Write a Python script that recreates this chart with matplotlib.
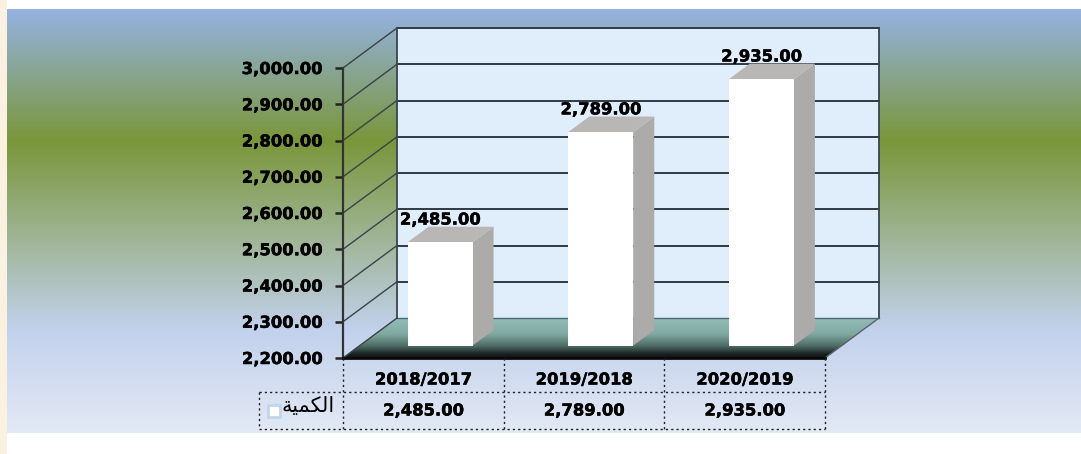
import numpy as np
import matplotlib
matplotlib.use("Agg")
import matplotlib.pyplot as plt
import matplotlib.patheffects as pe
from matplotlib.colors import LinearSegmentedColormap
from matplotlib.patches import Polygon

categories = ["2018/2017", "2019/2018", "2020/2019"]
values = [2485.0, 2789.0, 2935.0]
yticks = [2200, 2300, 2400, 2500, 2600, 2700, 2800, 2900, 3000]
series_name = "\ufe94\ufef4\ufee4\ufedc\ufedf\ufe8d"  # الكمية, shaped, in visual order

W, H = 1081, 454
fig = plt.figure(figsize=(W / 100, H / 100), dpi=100, facecolor="white")
FS = 11.8
heavy = [pe.withStroke(linewidth=0.35, foreground="black")]


def px_axes(x0, y0, x1, y1, **kw):
    return fig.add_axes([x0 / W, 1 - y1 / H, (x1 - x0) / W, (y1 - y0) / H], **kw)


# page strip and gradient background
strip = px_axes(0, 0, 7, H)
strip.set_axis_off()
strip.add_patch(plt.Rectangle((0, 0), 1, 1, transform=strip.transAxes, color="#FAF1E1"))

bg = px_axes(7, 9, W, 433)
bg.set_axis_off()
bg_cmap = LinearSegmentedColormap.from_list(
    "bg",
    [(0.0, "#95B2E2"), (0.31, "#7A963A"), (0.757, "#C2D1EC"), (1.0, "#E3E9F5")],
    N=1024,
)
bg.imshow(np.linspace(0, 1, 424)[:, None], aspect="auto", cmap=bg_cmap, vmin=0, vmax=1,
          interpolation="nearest")

# main axes: front plane of the 3D box
FX0, FX1, FY0, FY1 = 343, 825, 68, 358
ax = px_axes(FX0, FY0, FX1, FY1)
ax.set_xlim(0, len(categories))
ax.set_ylim(yticks[0], yticks[-1])
ax.patch.set_alpha(0)
for s in ax.spines.values():
    s.set_visible(False)
ax.set_yticks(yticks)
ax.set_yticklabels([f"{v:,.2f}" for v in yticks], fontsize=FS, fontweight="bold", color="black",
                   path_effects=heavy)
ax.tick_params(axis="y", length=6, width=1.8, color="#222222", pad=9)
ax.set_xticks([])

xpx = (FX1 - FX0) / len(categories)
ypx = (FY1 - FY0) / (yticks[-1] - yticks[0])
DX = 54 / xpx   # box depth in category units
DY = 40 / ypx   # box depth in value units
y_min, y_max = yticks[0], yticks[-1]
n = len(categories)


def dep(x, y, d):
    return x + d * DX, y + d * DY


# back wall
wall = Polygon([dep(0, y_min, 1), dep(n, y_min, 1), dep(n, y_max, 1), dep(0, y_max, 1)],
               closed=True, facecolor="#E0EDFB", edgecolor="none", clip_on=False, zorder=1)
ax.add_patch(wall)

# floor
floor_cmap = LinearSegmentedColormap.from_list(
    "floor", [(0.0, "#93BDB7"), (0.40, "#7FA9A0"), (0.70, "#4F6B66"), (0.88, "#1F2A28"), (1.0, "#0D0F0E")],
    N=512,
)
fl = ax.imshow(np.linspace(0, 1, 100)[:, None], aspect="auto", cmap=floor_cmap,
               extent=(0, n + DX, y_min, y_min + DY), origin="upper", zorder=2)
ax.set_xlim(0, n)
ax.set_ylim(y_min, y_max)
floor_poly = Polygon([dep(0, y_min, 0), dep(n, y_min, 0), dep(n, y_min, 1), dep(0, y_min, 1)],
                     closed=True, transform=ax.transData, facecolor="none", edgecolor="none",
                     clip_on=False)
ax.add_patch(floor_poly)
fl.set_clip_box(fig.bbox)
fl.set_clip_path(floor_poly)

# gridlines: back wall and left side wall
line_c = "#2F3A44"
for v in yticks:
    xb, yb = dep(0, v, 1)
    xe, ye = dep(n, v, 1)
    if v != y_min:
        ax.plot([xb, xe], [yb, ye], color=line_c, lw=1.4, clip_on=False, zorder=3)
    else:
        ax.plot([xb, xe], [yb, ye], color="#4A6A70", lw=1.0, clip_on=False, zorder=3)
    ax.plot([0, xb], [v, yb], color="#3A4348", lw=1.0, clip_on=False, zorder=3)
ax.plot(*zip(dep(0, y_min, 1), dep(0, y_max, 1)), color="#39444F", lw=1.3, clip_on=False, zorder=3)
ax.plot(*zip(dep(n, y_min, 1), dep(n, y_max, 1)), color="#39444F", lw=1.3, clip_on=False, zorder=3)
ax.plot(*zip(dep(n, y_min, 0), dep(n, y_min, 1)), color="#55666A", lw=1.0, clip_on=False, zorder=3)
ax.plot([0, 0], [y_min, y_max], color="#333333", lw=1.6, clip_on=False, zorder=3)
ax.plot([0, n], [y_min, y_min], color="#0A0A0A", lw=2.0, clip_on=False, zorder=4)

# bars
BAR_W = 65 / xpx
D0, D1 = 0.31, 0.31 + 21 / 54
for i, (cat, v) in enumerate(zip(categories, values)):
    cx = i + 0.5
    xl, xr = cx - BAR_W / 2, cx + BAR_W / 2
    side = [dep(xr, y_min, D0), dep(xr, y_min, D1), dep(xr, v, D1), dep(xr, v, D0)]
    top = [dep(xl, v, D0), dep(xr, v, D0), dep(xr, v, D1), dep(xl, v, D1)]
    front = [dep(xl, y_min, D0), dep(xr, y_min, D0), dep(xr, v, D0), dep(xl, v, D0)]
    ax.add_patch(Polygon(side, closed=True, fc="#ADABA9", ec="none", clip_on=False, zorder=5))
    ax.add_patch(Polygon(top, closed=True, fc="#B9B7B5", ec="none", clip_on=False, zorder=5))
    ax.add_patch(Polygon(front, closed=True, fc="#FFFFFF", ec="none", clip_on=False, zorder=6))
    lx, ly = dep(cx, v, D0)
    ax.annotate(f"{v:,.2f}", (lx, ly), xytext=(0, 16), textcoords="offset points",
                ha="center", va="center", fontsize=FS, fontweight="bold",
                color="black", annotation_clip=False, zorder=8, path_effects=heavy)

# data table under the plot, in category units
tax = px_axes(FX0, FY1, FX1, 430)
tax.set_xlim(0, n)
tax.set_ylim(430, FY1)
tax.set_axis_off()
tax.patch.set_alpha(0)
ROW, BOT = 392, 429
left = -(FX0 - 259) / xpx
dot = dict(color="#222222", lw=1.0, linestyle=(0, (1.6, 2.2)), clip_on=False)
for k in range(n + 1):
    tax.plot([k, k], [FY1, BOT], **dot)
tax.plot([left, left], [ROW, BOT], **dot)
tax.plot([left, n], [ROW, ROW], **dot)
tax.plot([left, n], [BOT, BOT], **dot)
for i, (cat, v) in enumerate(zip(categories, values)):
    tax.text(i + 0.5, 380, cat, ha="center", va="center", fontsize=FS, fontweight="bold",
             color="black", path_effects=heavy)
    tax.text(i + 0.5, 411, f"{v:,.2f}", ha="center", va="center", fontsize=FS, fontweight="bold",
             color="black", path_effects=heavy)
tax.add_patch(plt.Rectangle((-(FX0 - 267.5) / xpx, 404.5), 12 / xpx, 12, fc="white", ec="#BFD6EE",
                            lw=2.0, clip_on=False))
tax.text(-(FX0 - 335) / xpx, 406, series_name, ha="right", va="center", fontsize=15,
         family="DejaVu Sans", color="black", clip_on=False)

fig.savefig("out.png", dpi=100, facecolor="white")
